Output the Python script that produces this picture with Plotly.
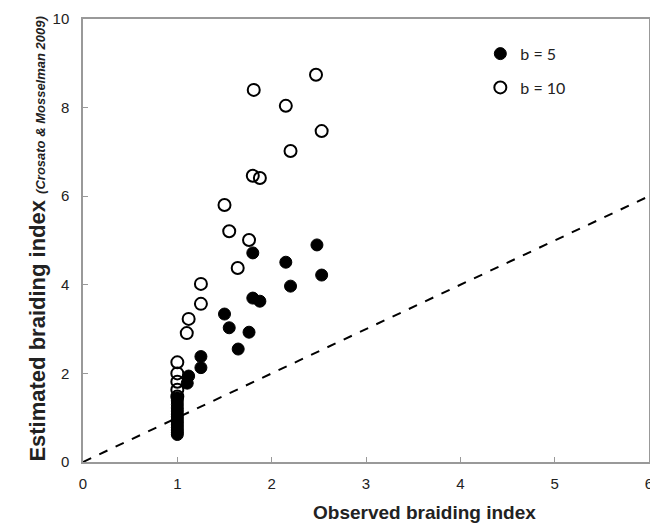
import plotly.graph_objects as go

# b = 5 (filled)
x_b5 = [1.80, 2.15, 2.48, 2.53, 2.20, 1.80, 1.875, 1.50, 1.55, 1.76, 1.645, 1.25, 1.25, 1.12, 1.105,
        1.0, 1.0, 1.0, 1.0, 1.0, 1.0, 1.0, 1.0, 1.0, 1.0, 1.0, 1.0, 1.0, 1.0]
y_b5 = [4.72, 4.51, 4.90, 4.22, 3.97, 3.70, 3.63, 3.34, 3.03, 2.93, 2.55, 2.38, 2.13, 1.94, 1.78,
        1.45, 1.38, 1.30, 1.22, 1.15, 1.08, 1.02, 0.96, 0.90, 0.84, 0.78, 0.72, 0.67, 0.62]

# b = 10 (open)
x_b10 = [1.81, 2.47, 2.15, 2.53, 2.20, 1.80, 1.875, 1.50, 1.55, 1.76, 1.64, 1.25, 1.25, 1.12, 1.10,
         1.0, 1.0, 1.0, 1.0, 1.0]
y_b10 = [8.40, 8.74, 8.04, 7.47, 7.02, 6.46, 6.41, 5.80, 5.21, 5.01, 4.38, 4.02, 3.57, 3.23, 2.91,
         2.25, 2.00, 1.81, 1.63, 1.48]

# 1:1 line
x_line = [0, 6]
y_line = [0, 6]

x_ticks = [0, 1, 2, 3, 4, 5, 6]
y_ticks = [0, 2, 4, 6, 8, 10]

fig = go.Figure()
fig.add_trace(go.Scatter(x=x_line, y=y_line, mode="lines", showlegend=False,
                         line=dict(color="black", width=2, dash="dash"), hoverinfo="skip"))
fig.add_trace(go.Scatter(x=x_b5, y=y_b5, mode="markers", name="b = 5", legendgroup="g5",
                         marker=dict(symbol="circle", size=12, color="black",
                                     line=dict(color="black", width=1))))
fig.add_trace(go.Scatter(x=x_b10, y=y_b10, mode="markers", name="b = 10", legendgroup="g10",
                         marker=dict(symbol="circle-open", size=12, color="black",
                                     line=dict(color="black", width=2))))

axis_common = dict(showline=True, mirror=True, linecolor="#999999", linewidth=1.5,
                   ticks="inside", ticklen=5, tickcolor="#999999", showgrid=False,
                   zeroline=False, ticklabeloverflow="allow",
                   tickfont=dict(family="Liberation Sans, Arial", size=15, color="#222"))

fig.update_layout(
    width=650, height=524,
    margin=dict(l=83, r=1, t=19, b=62, autoexpand=False),
    paper_bgcolor="white", plot_bgcolor="white",
    xaxis=dict(range=[0, 6], tickvals=x_ticks, ticklabelstandoff=7, **axis_common),
    yaxis=dict(range=[0, 10], tickvals=y_ticks, ticklabelstandoff=9, **axis_common),
    legend=dict(x=0.702, y=0.96, xanchor="left", yanchor="top", bgcolor="rgba(0,0,0,0)",
                font=dict(family="Lato, Carlito, sans-serif", size=16, color="#222"),
                itemwidth=30, tracegroupgap=10),
    annotations=[
        dict(text="<b>Observed braiding index</b>", xref="paper", yref="paper",
             x=0.603, y=-0.115, xanchor="center", yanchor="middle", showarrow=False,
             font=dict(family="Liberation Sans, Arial", size=19, color="#222")),
        dict(text="<b>Estimated braiding index </b><b><i><span style='font-size:13px'>(Crosato &amp; Mosselman 2009)</span></i></b>",
             xref="paper", yref="paper", x=-0.0795, y=0.502, xanchor="center", yanchor="middle",
             textangle=-90, showarrow=False,
             font=dict(family="Liberation Sans, Arial", size=22, color="#222")),
    ],
)

fig.write_html("out.html")
